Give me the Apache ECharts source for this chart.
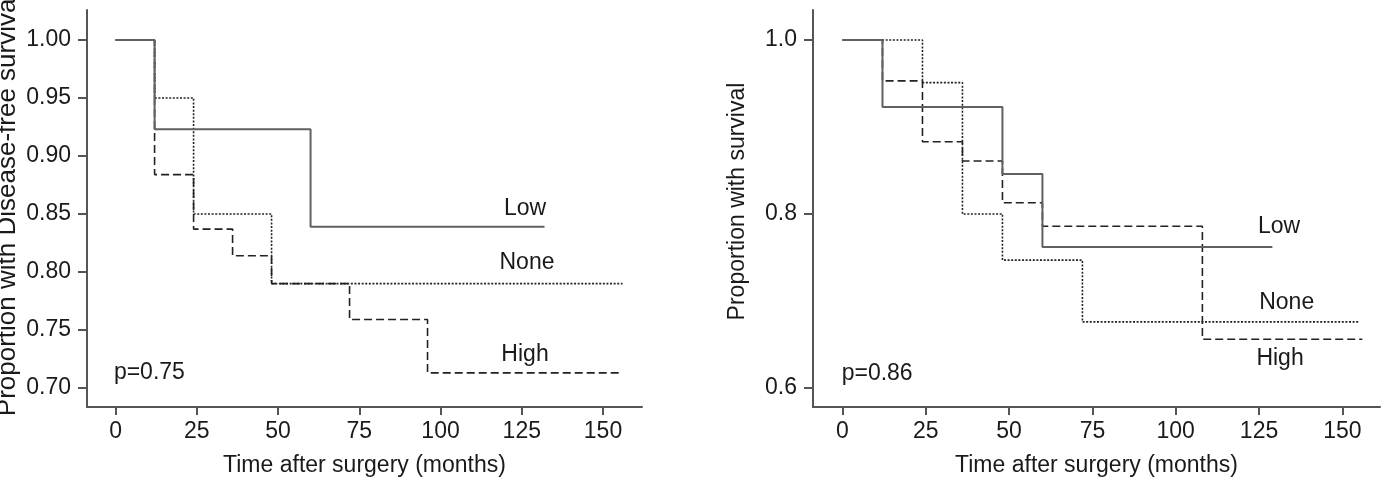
<!DOCTYPE html>
<html>
<head>
<meta charset="utf-8">
<script src="https://cdn.jsdelivr.net/npm/echarts@6/dist/echarts.min.js"></script>
<style>
  html, body { margin: 0; padding: 0; background: #fff; }
  #chart { width: 1381px; height: 483px; }
</style>
</head>
<body>
<div id="chart"></div>
<script>
// left panel: disease-free survival
const leftLowTime = [0, 12, 60, 132]
const leftLowSurv = [1, 0.923, 0.839, 0.839]
const leftNoneTime = [0, 12, 24, 48, 156]
const leftNoneSurv = [1, 0.95, 0.85, 0.79, 0.79]
const leftHighTime = [0, 12, 24, 36, 48, 72, 96, 155]
const leftHighSurv = [1, 0.884, 0.837, 0.814, 0.79, 0.759, 0.713, 0.713]

// right panel: overall survival
const rightLowTime = [0, 12, 48, 60, 129]
const rightLowSurv = [1, 0.923, 0.846, 0.762, 0.762]
const rightNoneTime = [0, 24, 36, 48, 72, 155]
const rightNoneSurv = [1, 0.951, 0.8, 0.747, 0.676, 0.676]
const rightHighTime = [0, 12, 24, 36, 48, 60, 108, 156]
const rightHighSurv = [1, 0.953, 0.883, 0.861, 0.813, 0.786, 0.656, 0.656]

const xTicks = [0, 25, 50, 75, 100, 125, 150]
const leftYTicks = [0.7, 0.75, 0.8, 0.85, 0.9, 0.95, 1.0]
const rightYTicks = [0.6, 0.8, 1.0]

// annotations, in data units
const leftNotes = [
  { x: 126, y: 0.855, text: 'Low' },
  { x: 126.6, y: 0.808, text: 'None' },
  { x: 126, y: 0.729, text: 'High' },
  { x: 10.4, y: 0.713, text: 'p=0.75' }
]
const rightNotes = [
  { x: 131, y: 0.785, text: 'Low' },
  { x: 133.3, y: 0.698, text: 'None' },
  { x: 131.3, y: 0.634, text: 'High' },
  { x: 10.4, y: 0.617, text: 'p=0.86' }
]

const FONT = '"Liberation Sans", Arial, sans-serif'
const TEXT = '#1a1a1a'
const AXIS = '#555'
const FS = 23

const zip = (xs, ys) => xs.map((x, i) => [x, ys[i]])

const makeX = (gridIndex, min, max) => ({
  type: 'value',
  gridIndex,
  min,
  max,
  name: 'Time after surgery (months)',
  nameLocation: 'middle',
  nameGap: 47,
  nameTextStyle: { color: TEXT, fontSize: FS, fontFamily: FONT },
  axisLine: { show: true, onZero: false, lineStyle: { color: AXIS, width: 2 } },
  axisTick: { show: true, length: 8, customValues: xTicks, lineStyle: { color: AXIS, width: 2 } },
  axisLabel: { customValues: xTicks, color: TEXT, fontSize: FS, fontFamily: FONT, margin: 13 },
  splitLine: { show: false }
})

const makeY = (gridIndex, min, max, ticks, digits, name, nameSize, nameGap, namePad) => ({
  type: 'value',
  gridIndex,
  min,
  max,
  name,
  nameLocation: 'middle',
  nameRotate: 90,
  nameGap,
  nameTextStyle: { color: TEXT, fontSize: nameSize, fontFamily: FONT, padding: namePad },
  axisLine: { show: true, onZero: false, lineStyle: { color: AXIS, width: 2 } },
  axisTick: { show: true, length: 9, customValues: ticks, lineStyle: { color: AXIS, width: 2 } },
  axisLabel: {
    customValues: ticks,
    color: TEXT,
    fontSize: FS,
    fontFamily: FONT,
    margin: 16,
    formatter: (v) => Number(v).toFixed(digits)
  },
  splitLine: { show: false }
})

const stepLine = (idx, data, kind) => {
  const styles = {
    solid: { color: '#606060', width: 2, type: 'solid' },
    dotted: { color: '#222', width: 1.6, type: [2, 1.6] },
    dashed: { color: '#222', width: 1.6, type: [8, 4] }
  }
  return {
    type: 'line',
    xAxisIndex: idx,
    yAxisIndex: idx,
    step: 'end',
    symbol: 'none',
    data,
    lineStyle: styles[kind],
    silent: true
  }
}

// scatter defaults to opacity 0.8, which would fade the labels
const notes = (idx, list) => ({
  type: 'scatter',
  xAxisIndex: idx,
  yAxisIndex: idx,
  symbolSize: 1,
  itemStyle: { color: 'rgba(0,0,0,0)', opacity: 1 },
  silent: true,
  data: list.map((n) => ({ value: [n.x, n.y], name: n.text })),
  label: {
    show: true,
    position: 'inside',
    formatter: (p) => p.name,
    color: TEXT,
    opacity: 1,
    textBorderWidth: 0,
    fontSize: FS,
    fontFamily: FONT
  }
})

const chart = echarts.init(document.getElementById('chart'))
chart.setOption({
  animation: false,
  backgroundColor: '#fff',
  grid: [
    { left: 87, top: 10, width: 555, height: 397, outerBoundsMode: 'none', containLabel: false },
    { left: 813, top: 10, width: 567, height: 397, outerBoundsMode: 'none', containLabel: false }
  ],
  xAxis: [makeX(0, -8.8, 162), makeX(1, -8.85, 161.3)],
  yAxis: [
    makeY(0, 0.6836, 1.0259, leftYTicks, 2, 'Proportion with Disease-free survival', 26, 66, [0, 0, 0, 8]),
    makeY(1, 0.5782, 1.0345, rightYTicks, 1, 'Proportion with survival', FS, 64, [0, 0, 0, 14])
  ],
  series: [
    stepLine(0, zip(leftHighTime, leftHighSurv), 'dashed'),
    stepLine(0, zip(leftNoneTime, leftNoneSurv), 'dotted'),
    stepLine(0, zip(leftLowTime, leftLowSurv), 'solid'),
    notes(0, leftNotes),
    stepLine(1, zip(rightHighTime, rightHighSurv), 'dashed'),
    stepLine(1, zip(rightNoneTime, rightNoneSurv), 'dotted'),
    stepLine(1, zip(rightLowTime, rightLowSurv), 'solid'),
    notes(1, rightNotes)
  ]
})
</script>
</body>
</html>
